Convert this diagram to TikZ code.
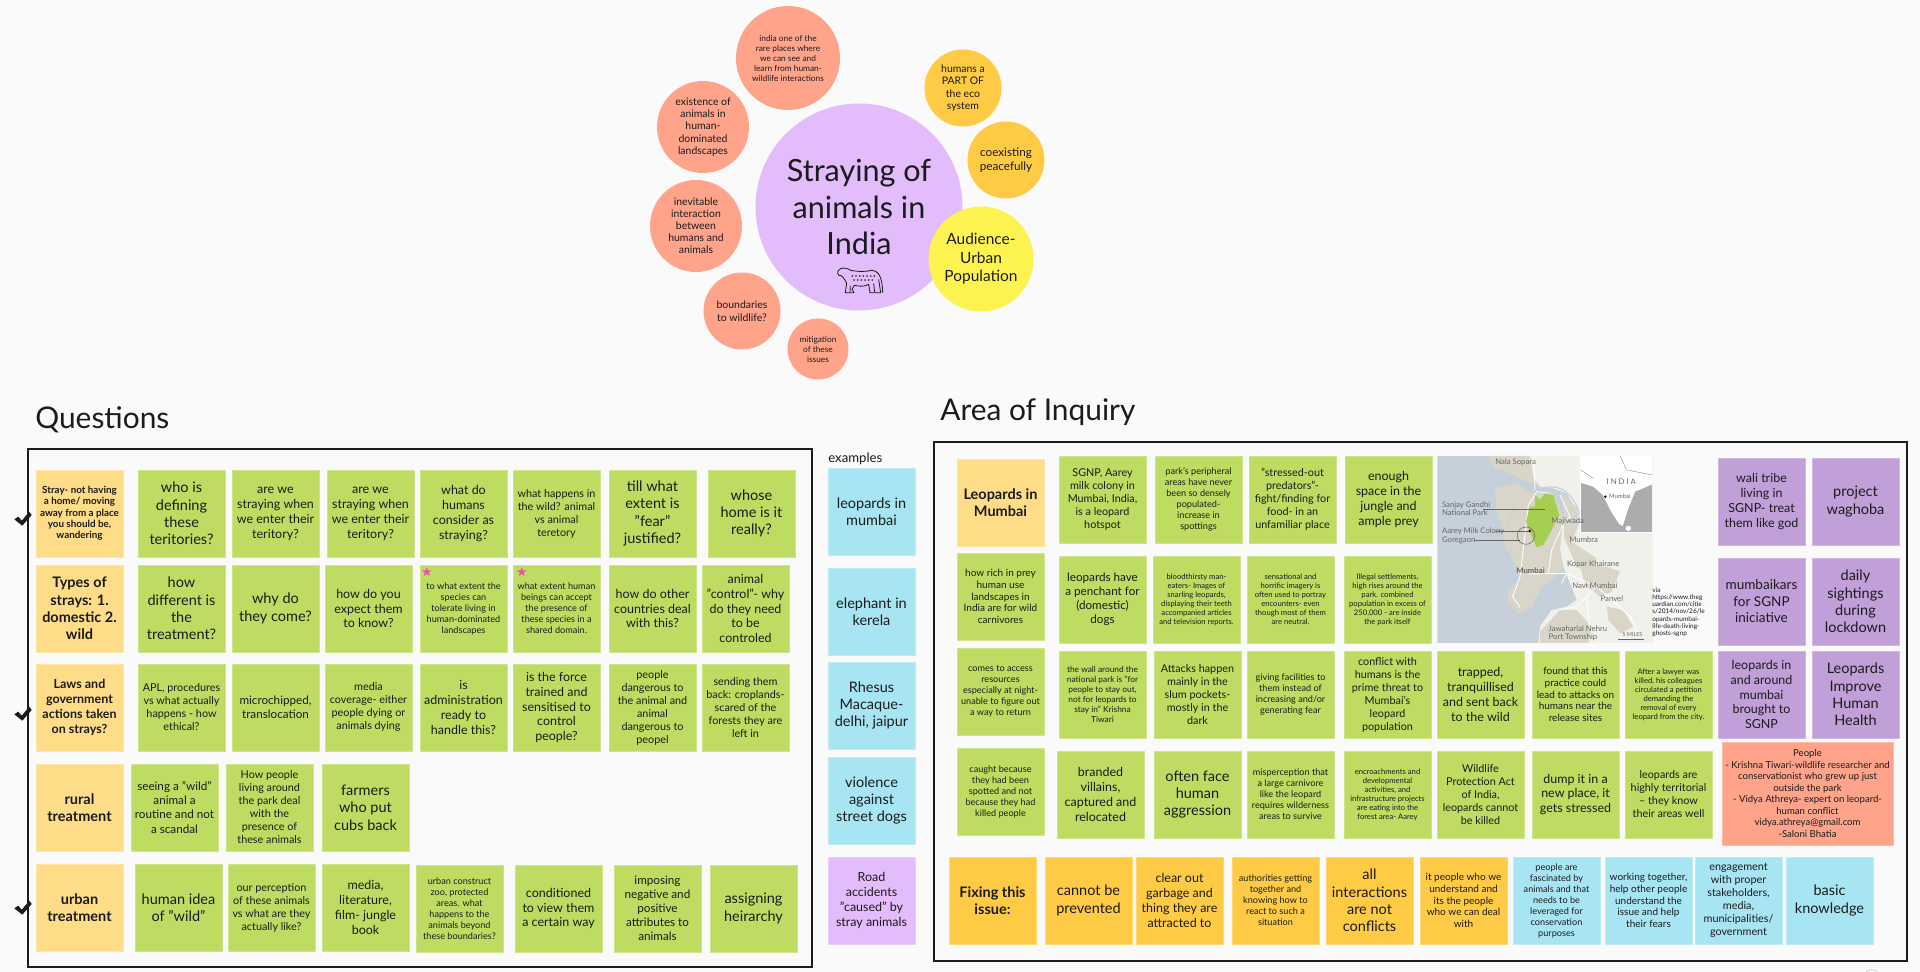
\documentclass[tikz,border=0pt]{standalone}
\usepackage{fontspec}
\setmainfont{Lato}
\usetikzlibrary{shapes.geometric}

\definecolor{paper}{HTML}{FAFAFA}
\definecolor{ink}{HTML}{1B1B1B}
\definecolor{notegreen}{HTML}{BFDC62}
\definecolor{notehead}{HTML}{FFDC88}
\definecolor{noteorange}{HTML}{FFCB45}
\definecolor{noteblue}{HTML}{A8E5F3}
\definecolor{notelilac}{HTML}{E2BCFB}
\definecolor{notepurple}{HTML}{C19FD9}
\definecolor{notesalmon}{HTML}{FFA48A}
\definecolor{noteyellow}{HTML}{FDF350}
\definecolor{mapwater}{HTML}{C5D0DA}
\definecolor{mapland}{HTML}{F1F1EC}
\definecolor{mapbeige}{HTML}{D9D5C8}
\definecolor{mapgreen}{HTML}{A6CE50}
\definecolor{maptext}{HTML}{666666}

\newcommand{\fsA}{\fontsize{8.25}{9.9}\selectfont}
\newcommand{\fsB}{\fontsize{7.1}{8.5}\selectfont}
\newcommand{\fsG}{\fontsize{6.65}{8}\selectfont}
\newcommand{\fsC}{\fontsize{6.15}{7.4}\selectfont}
\newcommand{\fsH}{\fontsize{5.7}{6.7}\selectfont}
\newcommand{\fsD}{\fontsize{5.2}{6.25}\selectfont}
\newcommand{\fsF}{\fontsize{4.75}{5.7}\selectfont}
\newcommand{\fsE}{\fontsize{4.35}{5.15}\selectfont}

\begin{document}
\begin{tikzpicture}[x=0.02cm,y=-0.02cm]
  \pgfmathsetmacro{\unit}{0.02}
  \pgfmathsetmacro{\ns}{87*\unit}

  \tikzstyle{note}=[anchor=north west, inner sep=0pt, outer sep=0pt, minimum size=\ns cm, align=center, text=ink, line width=0.3pt, execute at begin node={\rule{0pt}{0.85\baselineskip}}]
  \tikzstyle{greennote}=[note, fill=notegreen, draw=notegreen!75!white]
  \tikzstyle{headnote}=[note, fill=notehead, draw=notehead!75!white]
  \tikzstyle{orangenote}=[note, fill=noteorange, draw=noteorange!75!white]
  \tikzstyle{bluenote}=[note, fill=noteblue, draw=noteblue!75!white]
  \tikzstyle{purplenote}=[note, fill=notepurple, draw=notepurple!75!white]
  \tikzstyle{bubble}=[circle, inner sep=0pt, outer sep=0pt, align=center, text=ink]
  \tikzstyle{title}=[anchor=base west, inner sep=0pt, text=ink, font=\fontsize{17}{20}\selectfont]
  \tikzstyle{frame}=[draw=ink, line width=2.2*\unit cm]
  \tikzstyle{pinkstar}=[star, star points=5, star point ratio=2.5, fill=magenta!70!white, inner sep=0pt, minimum size=10*\unit cm]
  \tikzstyle{maplabel}=[anchor=west, inner sep=0pt, text=maptext, align=left, font=\fontsize{4.4}{4.6}\selectfont]

  \fill [paper] (0,0) rectangle (1920,972);
  \useasboundingbox (0,0) rectangle (1920,972);

  % bubbles
  \foreach \px/\py/\d/\col/\sz/\txt [count=\i] in {
    859/207/207/notelilac/\fontsize{17.4}{21}\selectfont/{Straying of\\animals in\\India},
    788/58/104/notesalmon/\fsF/{india one of the\\rare places where\\we can see and\\learn from human-\\wildlife interactions},
    703/127/92/notesalmon/\fontsize{5.95}{7}\selectfont/{existence of\\animals in\\human-\\dominated\\landscapes},
    696/226/92/notesalmon/\fontsize{5.95}{6.85}\selectfont/{inevitable\\interaction\\between\\humans and\\animals},
    742/311/77/notesalmon/\fontsize{5.95}{7.2}\selectfont/{boundaries\\to wildlife?},
    818/349/61/notesalmon/\fsF/{mitigation\\of these\\issues},
    963/88/77/noteorange/\fontsize{5.95}{7}\selectfont/{humans a\\PART OF\\the eco\\system},
    1006/160/77/noteorange/\fsG/{coexisting\\peacefully},
    981/259/105/noteyellow/\fontsize{8.8}{10.6}\selectfont/{Audience-\\Urban\\Population}} {
    \node (bubble\i) [bubble, fill=\col, font=\sz, minimum size=\d*\unit cm] at (\px,\py) {\txt};
  }

  % leopard icon
  \begin{scope}[shift={(620,0)}, x=0.02cm/3, y=-0.02cm/3, draw=ink, line width=0.45pt, line join=round]
    \draw (656,826) .. controls (644,806) and (672,797) .. (692,811) .. controls (715,816) and (740,815) .. (755,811) .. controls (778,813) and (787,835) .. (788,878);
    \draw (656,826) .. controls (665,824) and (672,834) .. (680,850) -- (676,878) -- (702,878) -- (696,868) -- (703,856) .. controls (720,860) and (735,860) .. (746,853) -- (750,878) -- (782,878) -- (776,838);
    \draw (690,876) -- (691,857);
    \draw (764,876) -- (761,850);
    \foreach \dx in {0,...,6} {
      \fill [ink] (697+\dx*11,828) circle (2.6);
    }
    \foreach \dx in {0,...,5} {
      \fill [ink] (702+\dx*11,840) circle (2.6);
    }
  \end{scope}

  \node (title_questions) [title] at (35,429) {Questions};
  \node (title_inquiry) [title] at (940,421) {Area of Inquiry};
  \node (title_examples) [anchor=base west, inner sep=0pt, text=ink, font=\fontsize{7.5}{9}\selectfont] at (828,463) {examples};

  \draw [frame] (28,449) rectangle (812,967);
  \draw [frame] (934,442) rectangle (1907,961);

  % checks
  \foreach \dy in {0,195,389} {
    \fill [ink, shift={(0,\dy)}] (14.3,519.3) -- (18.3,516.7) -- (21.7,520.7) -- (29.3,511.7) -- (31.7,515) -- (22.3,525.7) -- cycle;
  }

  % heading notes
  \foreach \px/\py/\sz/\txt [count=\i] in {
    36/470/\fontsize{5.6}{6.45}\selectfont/{Stray- not having\\a home/ moving\\away from a place\\you should be,\\wandering},
    36/565/\fsA/{Types of\\strays: 1.\\domestic 2.\\wild},
    36/664/\fsB/{Laws and\\government\\actions taken\\on strays?},
    36/764/\fsA/{rural\\treatment},
    36/864/\fsA/{urban\\treatment},
    957/459/\fsA/{Leopards in\\Mumbai}} {
    \node (head\i) [headnote, font=\sz\bfseries] at (\px,\py) {\txt};
  }

  % question notes
  \foreach \px/\py/\sz/\txt [count=\i] in {
    138/470/\fsA/{who is\\defining\\these\\teritories?},
    232/470/\fsB/{are we\\straying when\\we enter their\\teritory?},
    327/470/\fsB/{are we\\straying when\\we enter their\\teritory?},
    420/470/\fsB/{what do\\humans\\consider as\\straying?},
    513/470/\fsC/{what happens in\\the wild? animal\\vs animal\\teretory},
    609/470/\fsA/{till what\\extent is\\"fear"\\justified?},
    708/470/\fsA/{whose\\home is it\\really?},
    138/565/\fsA/{how\\different is\\the\\treatment?},
    232/565/\fsA/{why do\\they come?},
    325/565/\fsB/{how do you\\expect them\\to know?},
    420/565/\fsD/{to what extent the\\species can\\tolerate living in\\human-dominated\\landscapes},
    513/565/\fsD/{what extent human\\beings can accept\\the presence of\\these species in a\\shared domain.},
    609/565/\fsB/{how do other\\countries deal\\with this?},
    702/565/\fsB/{animal\\"control"- why\\do they need\\to be\\controled},
    138/664/\fsC/{APL, procedures\\vs what actually\\happens - how\\ethical?},
    232/664/\fsG/{microchipped,\\translocation},
    325/664/\fsC/{media\\coverage- either\\people dying or\\animals dying},
    420/664/\fsB/{is\\administration\\ready to\\handle this?},
    513/664/\fsB/{is the force\\trained and\\sensitised to\\control\\people?},
    609/664/\fsC/{people\\dangerous to\\the animal and\\animal\\dangerous to\\peopel},
    702/664/\fsC/{sending them\\back: croplands-\\scared of the\\forests they are\\left in},
    131/764/\fsG/{seeing a "wild"\\animal a\\routine and not\\a scandal},
    226/764/\fsC/{How people\\living around\\the park deal\\with the\\presence of\\these animals},
    322/764/\fsA/{farmers\\who put\\cubs back},
    135/864/\fsA/{human idea\\of "wild"},
    228/864/\fsC/{our perception\\of these animals\\vs what are they\\actually like?},
    322/864/\fsB/{media,\\literature,\\film- jungle\\book},
    416/865/\fsD/{urban construct\\zoo, protected\\areas. what\\happens to the\\animals beyond\\these boundaries?},
    515/865/\fsB/{conditioned\\to view them\\a certain way},
    614/865/\fsG/{imposing\\negative and\\positive\\attributes to\\animals},
    710/865/\fsA/{assigning\\heirarchy}} {
    \node (question\i) [greennote, font=\sz] at (\px,\py) {\txt};
  }
  \node (star_a) [pinkstar] at (426.7,572) {};
  \node (star_b) [pinkstar] at (521.7,572) {};

  % examples
  \foreach \py/\txt [count=\i] in {
    468/{leopards in\\mumbai},
    568/{elephant in\\kerela},
    662/{Rhesus\\Macaque-\\delhi, jaipur},
    757/{violence\\against\\street dogs}} {
    \node (example\i) [bluenote, font=\fsA] at (828,\py) {\txt};
  }
  \node (example5) [note, fill=notelilac, draw=notelilac!75!white, font=\fsB] at (828,857) {Road\\accidents\\"caused" by\\stray animals};

  % inquiry notes
  \foreach \px/\py/\sz/\txt [count=\i] in {
    1059/456/\fsC/{SGNP, Aarey\\milk colony in\\Mumbai, India,\\is a leopard\\hotspot},
    1155/456/\fsD/{park's peripheral\\areas have never\\been so densely\\populated-\\increase in\\spottings},
    1249/456/\fsC/{"stressed-out\\predators"-\\fight/finding for\\food- in an\\unfamiliar place},
    1345/456/\fsB/{enough\\space in the\\jungle and\\ample prey},
    957/553/\fsH/{how rich in prey\\human use\\landscapes in\\India are for wild\\carnivores},
    1059/556/\fsG/{leopards have\\a penchant for\\(domestic)\\dogs},
    1153/556/\fsE/{bloodthirsty man-\\eaters- Images of\\snarling leopards,\\displaying their teeth\\accompanied articles\\and television reports.},
    1247/556/\fsE/{sensational and\\horrific imagery is\\often used to portray\\encounters- even\\though most of them\\are neutral.},
    1344/556/\fsE/{Illegal settlements,\\high rises around the\\park.  combined\\population in excess of\\250,000 - are inside\\the park itself},
    957/648/\fsD/{comes to access\\resources\\especially at night-\\unable to figure out\\a way to return},
    1059/651/\fsF/{the wall around the\\national park is "for\\people to stay out,\\not for leopards to\\stay in" Krishna\\Tiwari},
    1154/651/\fsC/{Attacks happen\\mainly in the\\slum pockets-\\mostly in the\\dark},
    1247/651/\fsD/{giving facilities to\\them instead of\\increasing and/or\\generating fear},
    1344/651/\fsC/{conflict with\\humans is the\\prime threat to\\Mumbai's\\leopard\\population},
    1437/651/\fsB/{trapped,\\tranquillised\\and sent back\\to the wild},
    1532/651/\fsH/{found that this\\practice could\\lead to attacks on\\humans near the\\release sites},
    1625/651/\fsE/{After a lawyer was\\killed, his colleagues\\circulated a petition\\demanding the\\removal of every\\leopard from the city.},
    957/748/\fsD/{caught because\\they had been\\spotted and not\\because they had\\killed people},
    1057/751/\fsB/{branded\\villains,\\captured and\\relocated},
    1154/751/\fsA/{often face\\human\\aggression},
    1247/751/\fsD/{misperception that\\a large carnivore\\like the leopard\\requires wilderness\\areas to survive},
    1344/751/\fsE/{encroachments and\\developmental\\activities, and\\infrastructure projects\\are eating into the\\forest area- Aarey},
    1437/751/\fsC/{Wildlife\\Protection Act\\of India,\\leopards cannot\\be killed},
    1532/751/\fsB/{dump it in a\\new place, it\\gets stressed},
    1625/751/\fsC/{leopards are\\highly territorial\\-- they know\\their areas well}} {
    \node (inquiry\i) [greennote, font=\sz] at (\px,\py) {\txt};
  }

  % purple notes
  \foreach \px/\py/\sz/\txt [count=\i] in {
    1718/458/\fsB/{wali tribe\\living in\\SGNP- treat\\them like god},
    1812/458/\fsA/{project\\waghoba},
    1718/558/\fontsize{7.7}{9.4}\selectfont/{mumbaikars\\for SGNP\\iniciative},
    1812/558/\fsA/{daily\\sightings\\during\\lockdown},
    1718/651/\fsB/{leopards in\\and around\\mumbai\\brought to\\SGNP},
    1812/651/\fsA/{Leopards\\Improve\\Human\\Health}} {
    \node (tribe\i) [purplenote, font=\sz] at (\px,\py) {\txt};
  }

  \node (people) [note, fill=notesalmon, draw=notesalmon!75!white, minimum width=171*\unit cm, minimum height=103*\unit cm, font=\fontsize{5.45}{6.55}\selectfont] at (1722,742)
    {People\\- Krishna Tiwari-wildlife researcher and\\conservationist who grew up just\\outside the park\\- Vidya Athreya- expert on leopard-\\human conflict\\vidya.athreya@gmail.com\\-Saloni Bhatia};

  % fixing row
  \node (fix0) [orangenote, font=\fsA\bfseries] at (949,857) {Fixing this\\issue:};
  \foreach \px/\sz/\txt [count=\i] in {
    1045/\fsA/{cannot be\\prevented},
    1136/\fsB/{clear out\\garbage and\\thing they are\\attracted to},
    1232/\fsD/{authorities getting\\together and\\knowing how to\\react to such a\\situation},
    1326/\fsA/{all\\interactions\\are not\\conflicts},
    1420/\fsH/{it people who we\\understand and\\its the people\\who we can deal\\with}} {
    \node (fix\i) [orangenote, font=\sz] at (\px,857) {\txt};
  }
  \foreach \px/\sz/\txt [count=\i] in {
    1513/\fsD/{people are\\fascinated by\\animals and that\\needs to be\\leveraged for\\conservation\\purposes},
    1605/\fsH/{working together,\\help other people\\understand the\\issue and help\\their fears},
    1695/\fsC/{engagement\\with proper\\stakeholders,\\media,\\municipalities/\\government},
    1786/\fsA/{basic\\knowledge}} {
    \node (help\i) [bluenote, font=\sz] at (\px,857) {\txt};
  }

  % map
  \begin{scope}[shift={(1420,450)}, x=0.02cm/3, y=-0.02cm/3]
    \clip (52,18) rectangle (699,579);
    \fill [mapwater] (52,18) rectangle (699,579);
    \fill [mapland] (330,18) -- (699,18) -- (699,579) -- (355,579) -- (360,530) -- (395,480) -- (440,470) -- (470,450) -- (450,400) -- (430,350) -- (420,300) -- (418,240) -- (470,180) -- (440,130) -- (400,115) -- (360,110) -- (335,80) -- cycle;
    \fill [mapbeige] (205,18) -- (330,18) -- (338,70) -- (350,105) -- (300,85) -- (260,65) -- (225,55) -- cycle;
    \fill [mapbeige] (225,115) -- (290,98) -- (330,128) -- (400,128) -- (430,200) -- (425,250) -- (420,300) -- (430,350) -- (400,385) -- (365,410) -- (335,470) -- (295,492) -- (262,455) -- (265,420) -- (300,390) -- (285,340) -- (255,290) -- (245,230) -- (228,180) -- cycle;
    \fill [mapbeige] (425,125) -- (470,175) -- (478,220) -- (455,275) -- (530,325) -- (520,375) -- (470,350) -- (432,262) -- (432,200) -- cycle;
    \fill [mapbeige] (480,345) -- (560,350) -- (600,365) -- (575,425) -- (540,440) -- (495,405) -- cycle;
    \fill [mapbeige] (360,545) -- (420,480) -- (470,480) -- (515,530) -- (505,579) -- (360,579) -- cycle;
    \fill [mapbeige] (560,470) -- (610,480) -- (640,530) -- (600,550) -- (565,510) -- cycle;
    \draw [mapwater, line width=0.7pt] (345,122) .. controls (370,112) and (400,105) .. (425,118) .. controls (450,130) and (470,160) .. (478,190) (478,190) -- (432,222);
    \draw [mapwater, line width=0.6pt] (260,230) -- (285,170) (280,340) -- (265,300);
    \draw [white, line width=0.5pt] (342,18) -- (345,120) (325,372) -- (440,370) -- (530,410) -- (630,500) -- (660,560) (300,380) -- (278,440) -- (300,472) (500,440) -- (510,540) (420,135) -- (450,200) -- (430,222) (390,130) -- (350,125) -- (325,165) -- (300,380) (430,222) -- (395,300) -- (385,372) (440,370) -- (425,400) (530,410) -- (470,470) -- (420,480);
    \fill [mapgreen] (345,135) -- (360,150) -- (375,130) -- (400,135) -- (418,195) -- (395,240) -- (370,285) -- (350,292) -- (335,260) -- (318,215) -- (330,170) -- (345,170) -- cycle;
    \draw [maptext, line width=0.25pt] (190,179) -- (375,179) (225,243) -- (329,243) (163,271) -- (300,271) (594,568) -- (673,568);
    \draw [maptext, line width=0.3pt] (318,257) circle (26);
    \fill [black] (329,243) circle (4);
    % inset
    \fill [gray!65] (482,18) rectangle (697,248);
    \fill [white] (482,18) -- (697,18) -- (697,103) -- (645,125) -- (625,175) -- (608,228) -- (597,222) -- (572,182) -- (548,135) -- (520,110) -- (482,98) -- cycle;
    \fill [white] (625,235) circle (8);
    \draw [white, line width=0.5pt] (482,248) -- (697,248) (482,18) -- (482,248);
    \draw [maptext, line width=0.15pt] (482,60) -- (520,85) (600,18) -- (620,60) -- (697,75);
    \fill [black] (556,140) circle (4);
    \node (lab_india) [maplabel, anchor=center] at (604,95) {I N D I A};
    \node (lab_mumbai_b) [maplabel, font=\fontsize{3.4}{4}\selectfont] at (566,140) {Mumbai};
    \node (lab_nala) [maplabel] at (225,38) {Nala Sopara};
    \node (lab_sanjay) [maplabel] at (65,176) {Sanjay Gandhi\\National Park};
    \node (lab_aarey) [maplabel] at (65,243) {Aarey Milk Colony};
    \node (lab_goregaon) [maplabel] at (65,271) {Goregaon};
    \node (lab_majiwada) [maplabel] at (393,213) {Majiwada};
    \node (lab_mumbra) [maplabel] at (447,268) {Mumbra};
    \node (lab_mumbai) [maplabel, font=\fontsize{4.4}{4.6}\selectfont\bfseries] at (288,361) {Mumbai};
    \node (lab_kopar) [maplabel] at (440,344) {Kopar Khairane};
    \node (lab_navi) [maplabel] at (456,406) {Navi Mumbai};
    \node (lab_panvel) [maplabel] at (541,446) {Panvel};
    \node (lab_port) [maplabel] at (385,549) {Jawaharlal Nehru\\Port Township};
    \node (lab_miles) [maplabel, font=\fontsize{3.1}{4}\selectfont] at (606,555) {5 MILES};
  \end{scope}

  \node (via) [anchor=north west, inner sep=0pt, align=left, text=ink, font=\fontsize{3.7}{4.15}\selectfont] at (1652,587) {via\\https://www.theg\\uardian.com/citie\\s/2014/nov/26/le\\opards-mumbai-\\life-death-living-\\ghosts-sgnp};

  \draw [gray!40, line width=0.4pt] (1866,972) .. controls (1867,969) and (1876,969) .. (1877,972);

\end{tikzpicture}
\end{document}
